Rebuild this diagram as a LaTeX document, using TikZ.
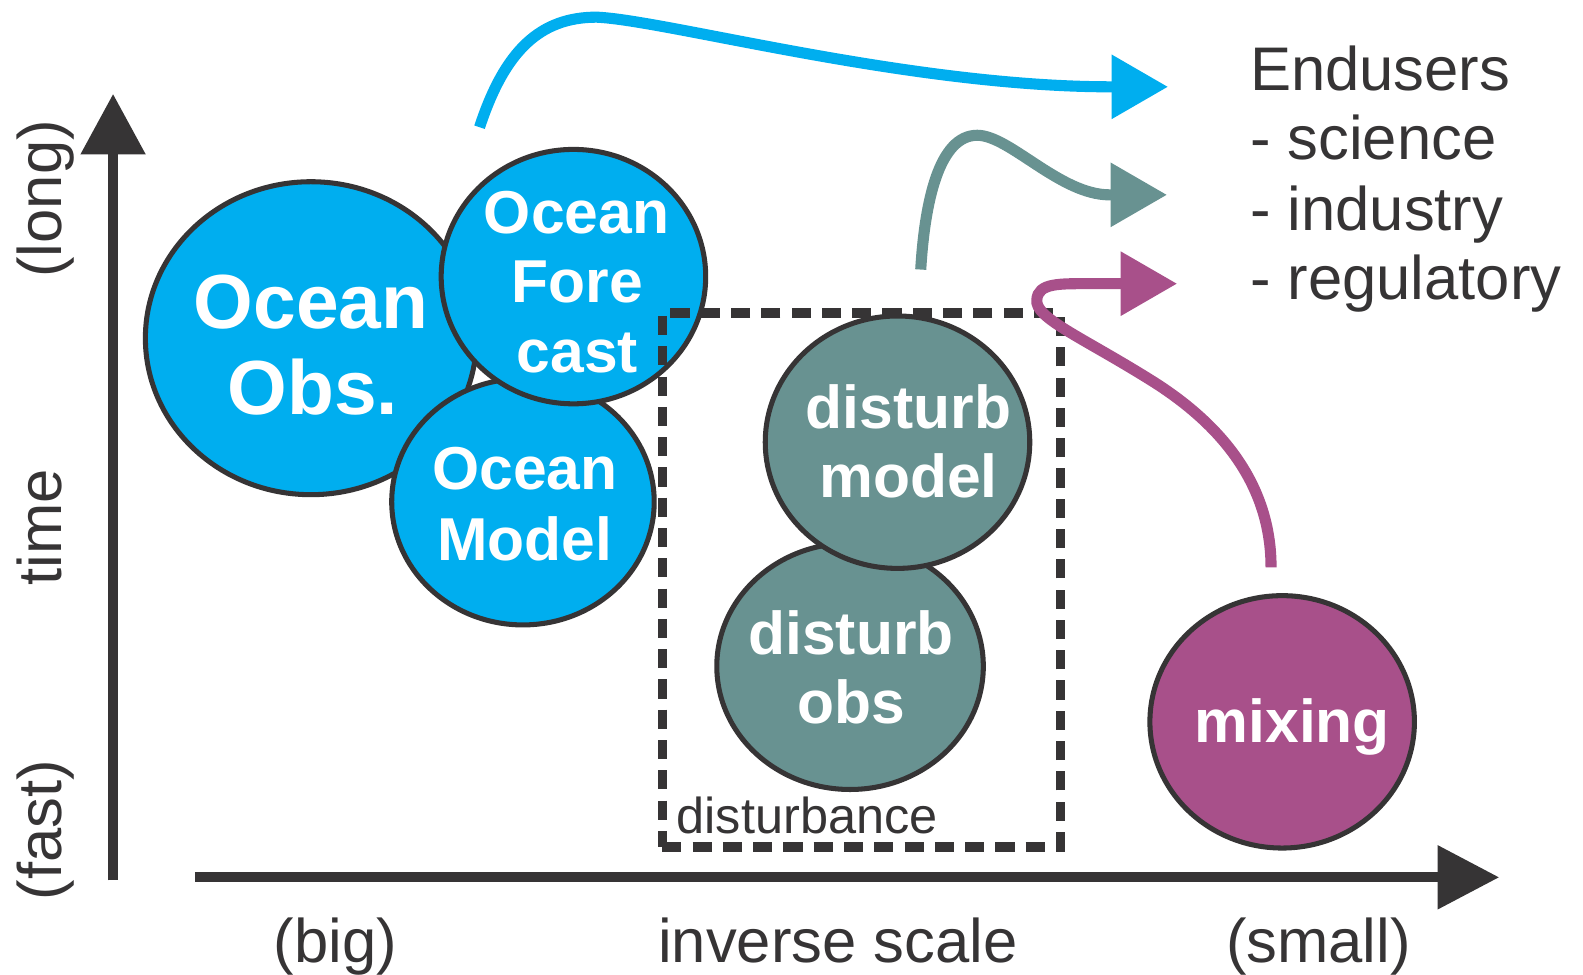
\documentclass[tikz,border=0pt]{standalone}
\usepackage{fontspec}
\setmainfont{Liberation Sans}
\usetikzlibrary{shapes.geometric,arrows.meta}
\definecolor{dk}{RGB}{54,52,53}
\definecolor{oblue}{RGB}{0,174,239}
\definecolor{tealc}{RGB}{104,146,145}
\definecolor{purp}{RGB}{168,80,138}
\begin{document}
\begin{tikzpicture}[x=1pt,y=-1pt,
  axis/.style={draw=dk,line width=10pt,-{Triangle[length=60pt,width=62pt]}},
  bub/.style={ellipse,draw=dk,line width=5pt,inner sep=0pt},
  txt/.style={inner sep=0pt,anchor=base,text=dk,font=\fontsize{61}{68}\selectfont},
  wtxt/.style={inner sep=0pt,anchor=base,text=white,font=\bfseries\fontsize{60}{68}\selectfont},
  btxt/.style={inner sep=0pt,anchor=base,text=white,font=\bfseries\fontsize{76}{86}\selectfont},
  conn/.style={line width=11pt,-{Triangle[length=56pt,width=61pt]}},
  dbox/.style={draw=dk,line width=9pt,dash pattern=on 19pt off 11pt,inner sep=0pt}]
\useasboundingbox (0,0) rectangle (1568,965);

% axes
\coordinate (ybot) at (112,872);
\coordinate (ytop) at (112,93);
\coordinate (xl) at (193,869);
\coordinate (xr) at (1485,869);
\draw[axis] (ybot) -- (ytop);
\draw[axis,-{Triangle[length=61pt,width=61pt]}] (xl) -- (xr);

% axis labels
\node[txt,rotate=90] (lLong) at (61,197) {(long)};
\node[txt,rotate=90] (lTime) at (61,522) {time};
\node[txt,rotate=90] (lFast) at (61,822) {(fast)};
\node[txt] (lBig) at (332,953) {(big)};
\node[txt] (lInv) at (830,953) {inverse scale};
\node[txt] (lSmall) at (1306,953) {(small)};

% ocean bubbles
\node[bub,fill=oblue,minimum width=328pt,minimum height=310pt] (obs) at (308,335) {};
\node[bub,fill=oblue,minimum width=260pt,minimum height=244pt] (model) at (518,497) {};
\node[bub,fill=oblue,minimum width=262pt,minimum height=252pt] (fore) at (568,274) {};
\node[btxt] (obs1) at (308,325) {Ocean};
\node[btxt] (obs2) at (310,411) {Obs.};
\node[wtxt] (fore1) at (571,231) {Ocean};
\node[wtxt] (fore2) at (572,300) {Fore};
\node[wtxt] (fore3) at (572,369) {cast};
\node[wtxt] (model1) at (520,485) {Ocean};
\node[wtxt] (model2) at (520,555) {Model};

% disturbance bubbles
\node[bub,fill=tealc,minimum width=264pt,minimum height=244pt] (dobs) at (842,660) {};
\node[bub,fill=tealc,minimum width=262pt,minimum height=250pt] (dmodel) at (889,438) {};
\node[wtxt] (dm1) at (900,424) {disturb};
\node[wtxt] (dm2) at (900,493) {model};
\node[wtxt] (do1) at (843,648) {disturb};
\node[wtxt] (do2) at (843,717) {obs};

% mixing
\node[bub,fill=purp,minimum width=262pt,minimum height=250pt] (mix) at (1270,715) {};
\node[wtxt] (mix1) at (1280,735) {mixing};

% disturbance box
\node[dbox,minimum width=394pt,minimum height=529pt] (dist) at (853,574.5) {};
\node[txt,anchor=base west,font=\fontsize{50}{60}\selectfont] (distlbl) at (670,826) {disturbance};

% endusers
\node[txt,anchor=base west] (eu0) at (1238,90) {Endusers};
\node[txt,anchor=base west] (eu1) at (1238,158) {- science};
\node[txt,anchor=base west] (eu2) at (1238,228) {- industry};
\node[txt,anchor=base west] (eu3) at (1238,297) {- regulatory};

% arrows
\coordinate (b0) at (475,126);
\coordinate (b1) at (1157,86);
\coordinate (t0) at (912,267);
\coordinate (t1) at (1156,193);
\coordinate (p0) at (1259,562);
\coordinate (p1) at (1166,281);
\draw[conn,oblue] (b0) .. controls (500,50) and (535,17) .. (591,17)
  .. controls (660,20) and (900,86) .. (1101,86) -- (b1);
\draw[conn,tealc] (t0) .. controls (916,200) and (930,134) .. (968,134)
  .. controls (1000,134) and (1050,193) .. (1099,193) -- (t1);
\draw[conn,purp] (p0) .. controls (1259,480) and (1210,420) .. (1139,376)
  .. controls (1070,333) and (1025,315) .. (1027,297)
  .. controls (1028,280) and (1050,281) .. (1080,281) -- (p1);
\end{tikzpicture}
\end{document}
